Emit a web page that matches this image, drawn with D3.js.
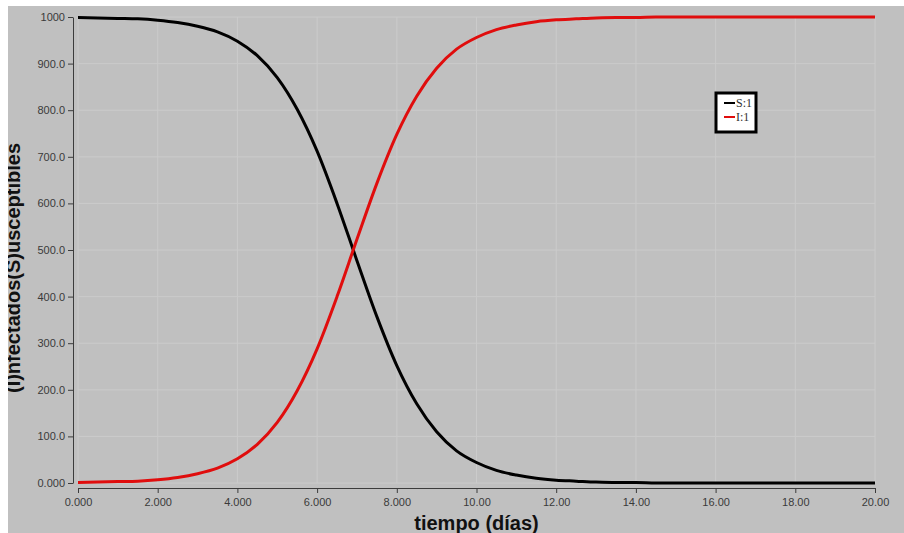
<!DOCTYPE html>
<html lang="es">
<head>
<meta charset="UTF-8" />
<title>Modelo SI</title>
<script src="https://d3js.org/d3.v7.min.js"></script>
<style>
  html, body { margin: 0; padding: 0; background: #fff; }
  svg { display: block; }
  .tick text { font-family: "Liberation Sans", Arial, sans-serif; font-size: 11px; fill: #3a3a3a; }
  .tick line, .domain { stroke: #3c3c3c; }
</style>
</head>
<body>
<svg id="chart" width="904" height="533"></svg>
<script>
// tiempo (días), cada medio día
const tiempo = d3.range(0, 20.01, 0.5);
const susceptibles = [999, 998, 997, 996, 993, 988, 980, 968, 948, 917, 870, 802, 712, 600, 477, 357, 252, 170, 110, 69,
  44, 27, 17, 10, 6, 4, 2, 1, 1, 0, 0, 0, 0, 0, 0, 0, 0, 0, 0, 0, 0];
const infectados = [1, 2, 3, 4, 7, 12, 20, 32, 52, 83, 130, 198, 288, 400, 523, 643, 748, 830, 890, 931,
  956, 973, 983, 990, 994, 996, 998, 999, 999, 1000, 1000, 1000, 1000, 1000, 1000, 1000, 1000, 1000, 1000, 1000, 1000];
const xTicks = d3.range(0, 21, 2);
const yTicks = d3.range(0, 1001, 100);
const series = [
  { name: "S:1", values: susceptibles, color: "#000000" },
  { name: "I:1", values: infectados, color: "#e00d0d" }
];

const svg = d3.select("#chart");

// gray panel (white strip left and top)
svg.append("defs").append("clipPath").attr("id", "panel")
  .append("rect").attr("x", 8).attr("y", 6).attr("width", 896).attr("height", 527);
const g = svg.append("g").attr("clip-path", "url(#panel)");
g.append("rect").attr("x", 8).attr("y", 6).attr("width", 896).attr("height", 527).attr("fill", "#c0c0c0");

const x = d3.scaleLinear().domain([0, 20]).range([78, 875]);
const y = d3.scaleLinear().domain([0, 1000]).range([483, 17]);
const fmt = d3.format(".4r");

// grid
g.append("g").selectAll("line").data(xTicks).join("line")
  .attr("x1", d => x(d)).attr("x2", d => x(d))
  .attr("y1", y(1000)).attr("y2", y(0))
  .attr("stroke", "#cbcbcb").attr("stroke-width", 1);
g.append("g").selectAll("line").data(yTicks).join("line")
  .attr("x1", x(0)).attr("x2", x(20))
  .attr("y1", d => y(d)).attr("y2", d => y(d))
  .attr("stroke", "#cbcbcb").attr("stroke-width", 1);

// axes
g.append("g").attr("transform", "translate(73,0)")
  .call(d3.axisLeft(y).tickValues(yTicks).tickFormat(fmt).tickSize(5).tickSizeOuter(0).tickPadding(3));
g.append("g").attr("transform", "translate(0,488)")
  .call(d3.axisBottom(x).tickValues(xTicks).tickFormat(fmt).tickSize(5).tickSizeOuter(0).tickPadding(5));

// curves
const line = d3.line()
  .x((d, i) => x(tiempo[i]))
  .y(d => y(d))
  .curve(d3.curveMonotoneX);
g.append("g").selectAll("path").data(series).join("path")
  .attr("d", d => line(d.values))
  .attr("fill", "none")
  .attr("stroke", d => d.color)
  .attr("stroke-width", 3)
  .attr("stroke-linejoin", "round");

// axis titles
g.append("text")
  .attr("x", x(10)).attr("y", 530)
  .attr("text-anchor", "middle")
  .style("font-family", "'Liberation Sans', Arial, sans-serif")
  .style("font-weight", "bold").style("font-size", "20px")
  .attr("fill", "#111")
  .text("tiempo (días)");
g.append("text")
  .attr("transform", "translate(20,268) rotate(-90)")
  .attr("text-anchor", "middle")
  .style("font-family", "'Liberation Sans', Arial, sans-serif")
  .style("font-weight", "bold").style("font-size", "20px")
  .attr("fill", "#111")
  .text("(I)nfectados(S)usceptibles");

// legend
const legend = g.append("g").attr("transform", "translate(716,93)");
legend.append("rect").attr("width", 40).attr("height", 39)
  .attr("fill", "#fff").attr("stroke", "#000").attr("stroke-width", 3);
const item = legend.selectAll("g.item").data(series).join("g")
  .attr("class", "item")
  .attr("transform", (d, i) => `translate(0,${10 + i * 14})`);
item.append("line").attr("x1", 8).attr("x2", 19)
  .attr("stroke", d => d.color).attr("stroke-width", 2);
item.append("text").attr("x", 20).attr("y", 4)
  .style("font-family", "'Liberation Serif', 'Times New Roman', serif")
  .style("font-size", "12px").attr("fill", "#333")
  .text(d => d.name);
</script>
</body>
</html>
